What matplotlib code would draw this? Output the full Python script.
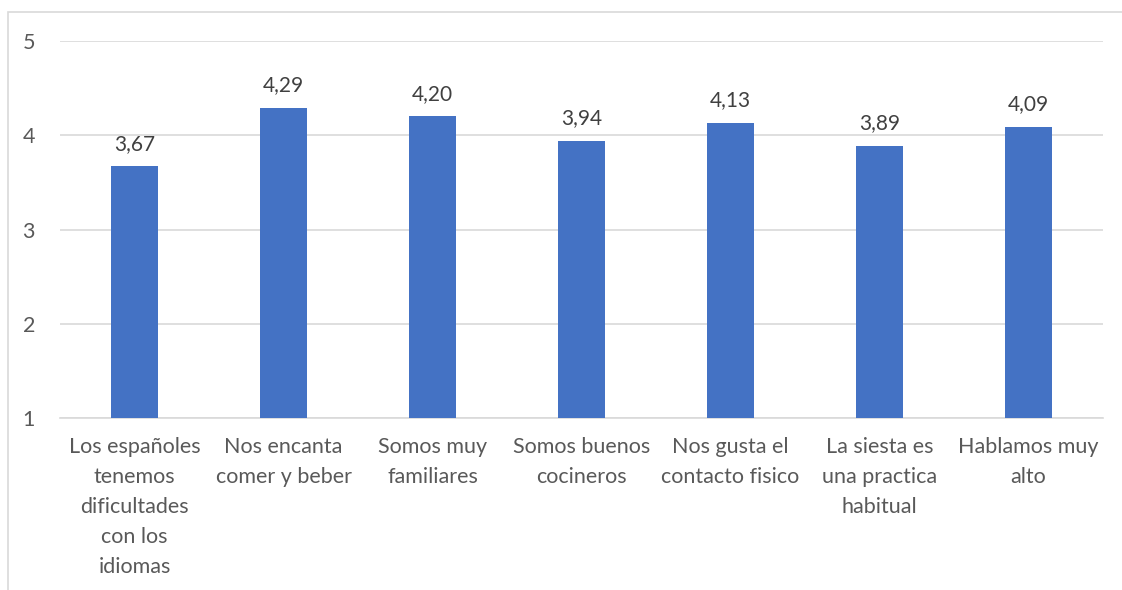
import matplotlib.pyplot as plt
import numpy as np
from matplotlib.patches import Rectangle

categorias = [
    "Los españoles\ntenemos\ndificultades\ncon los\nidiomas",
    "Nos encanta\ncomer y beber",
    "Somos muy\nfamiliares",
    "Somos buenos\ncocineros",
    "Nos gusta el\ncontacto fisico",
    "La siesta es\nuna practica\nhabitual",
    "Hablamos muy\nalto",
]
medias = [3.67, 4.29, 4.20, 3.94, 4.13, 3.89, 4.09]
yticks = [1, 2, 3, 4, 5]

plt.rcParams['font.family'] = ['Lato', 'DejaVu Sans']
texto = '#595959'

fig = plt.figure(figsize=(11.22, 5.90), dpi=100)
ax = fig.add_axes([60 / 1122, 1 - 418 / 590, 1043 / 1122, 377 / 590])

x = np.arange(len(categorias))
ax.bar(x, medias, width=0.315, bottom=0, color='#4472C4', zorder=3)

for xi, v in zip(x, medias):
    ax.annotate(f"{v:.2f}".replace('.', ','), (xi, v), xytext=(0, 9),
                textcoords='offset points', ha='center', va='bottom',
                fontsize=15, color='#404040')

ax.set_xlim(-0.5, len(categorias) - 0.5)
ax.set_ylim(1, 5)
ax.set_yticks(yticks)
ax.set_yticklabels([str(t) for t in yticks])
ax.set_xticks(x)
ax.set_xticklabels(categorias, linespacing=1.62)

ax.yaxis.grid(True, color='#D9D9D9', linewidth=1.2, zorder=0)
ax.tick_params(axis='both', length=0, labelsize=15.5, labelcolor=texto)
ax.tick_params(axis='y', pad=18)
ax.tick_params(axis='x', pad=14)
for s in ['top', 'right', 'left']:
    ax.spines[s].set_visible(False)
ax.spines['bottom'].set_color('#D9D9D9')
ax.spines['bottom'].set_linewidth(1.2)

# chart area frame (runs past the right and bottom edges)
fig.patches.append(Rectangle((7.5 / 1122, -0.1), 1.2, 1.1 - 11.5 / 590,
                             transform=fig.transFigure, fill=False,
                             edgecolor='#D9D9D9', linewidth=1.2))

fig.savefig('out.png', dpi=100)
